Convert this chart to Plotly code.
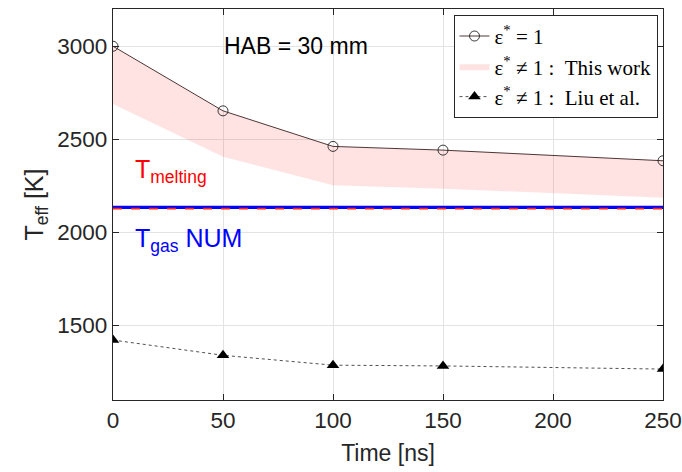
import plotly.graph_objects as go

time_ns = [0, 50, 100, 150, 250]
teff_eps1 = [3000, 2653, 2462, 2442, 2385]
band_upper = [3000, 2653, 2462, 2442, 2385]
band_lower = [2690, 2406, 2254, 2235, 2186]
teff_liu = [1422, 1340, 1287, 1283, 1266]
t_melting = 2128
t_gas = 2135

x_range = [0, 250]
y_range = [1100, 3200]
x_ticks = [0, 50, 100, 150, 200, 250]
y_ticks = [1500, 2000, 2500, 3000]

SANS = "Liberation Sans, Arial, Helvetica"
SERIF = "Liberation Serif, DejaVu Serif, serif"

fig = go.Figure()

# T_gas NUM (blue solid) and T_melting (red dashed)
fig.add_trace(go.Scatter(x=x_range, y=[t_gas, t_gas], mode="lines",
                         line=dict(color="#0000ff", width=3.2),
                         showlegend=False, hoverinfo="skip"))
fig.add_trace(go.Scatter(x=x_range, y=[t_melting, t_melting], mode="lines",
                         line=dict(color="#ff2020", width=1.6, dash="dash"),
                         showlegend=False, hoverinfo="skip"))

# band
fig.add_trace(go.Scatter(x=time_ns + time_ns[::-1], y=band_upper + band_lower[::-1],
                         fill="toself", fillcolor="rgba(255,0,0,0.11)",
                         line=dict(width=0, color="rgba(0,0,0,0)"), mode="lines",
                         name="ε<sup>*</sup> ≠ 1 :  This work", legendrank=2))

fig.add_trace(go.Scatter(x=time_ns, y=teff_eps1, mode="lines+markers",
                         line=dict(color="#3a2020", width=0.9),
                         marker=dict(symbol="circle-open", size=10, color="#222",
                                     line=dict(width=0.9)),
                         name="ε<sup>*</sup> = 1", legendrank=1))

fig.add_trace(go.Scatter(x=time_ns, y=teff_liu, mode="lines+markers",
                         line=dict(color="#222", width=0.8, dash="dot"),
                         marker=dict(symbol="triangle-up", size=11, color="black"),
                         name="ε<sup>*</sup> ≠ 1 :  Liu et al.", legendrank=3))

fig.add_annotation(x=83, y=3000, text="HAB = 30 mm", showarrow=False,
                   font=dict(size=23, color="black", family=SANS))
fig.add_annotation(x=9, y=2330, xanchor="left", text="T<sub>melting</sub>", showarrow=False,
                   font=dict(size=25, color="#ff0000", family=SANS))
fig.add_annotation(x=9, y=1960, xanchor="left", text="T<sub>gas</sub> NUM", showarrow=False,
                   font=dict(size=25, color="#0000ff", family=SANS))

axis_common = dict(showline=True, linecolor="#262626", linewidth=1.3, mirror="ticks",
                   ticks="inside", ticklen=6, tickcolor="#262626", automargin=False,
                   ticklabeloverflow="allow",
                   showgrid=True, gridcolor="#e3e3e3", gridwidth=1, zeroline=False,
                   tickfont=dict(size=22.5, color="#262626", family=SANS))

fig.update_xaxes(range=x_range, tickvals=x_ticks,
                 title=dict(text="Time [ns]", font=dict(size=23, color="#262626"), standoff=12),
                 **axis_common)
fig.update_yaxes(range=y_range, tickvals=y_ticks,
                 title=dict(text="T<sub>eff</sub> [K]", font=dict(size=25, color="#262626"), standoff=6),
                 **axis_common)

fig.update_layout(
    width=682, height=472,
    margin=dict(l=113, r=19, t=9, b=72),
    plot_bgcolor="white", paper_bgcolor="white",
    font=dict(family=SANS, color="#262626"),
    legend=dict(x=0.99, y=0.985, xanchor="right", yanchor="top",
                bgcolor="white", bordercolor="#262626", borderwidth=1,
                font=dict(family=SERIF, size=21, color="black"),
                itemwidth=30, tracegroupgap=0),
)

fig.write_html("out.html", config={"displayModeBar": False},
               post_script="document.body.style.margin='0';document.body.style.overflow='hidden';")
